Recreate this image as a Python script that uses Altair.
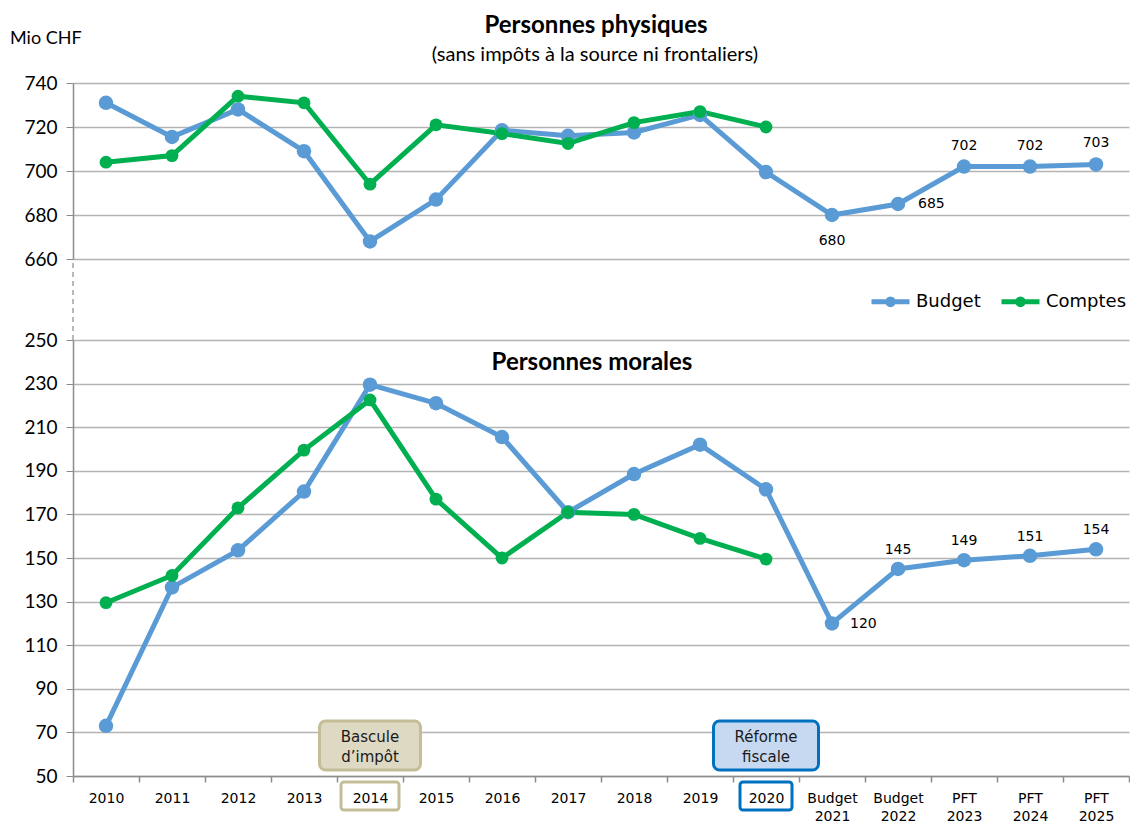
import altair as alt
import pandas as pd

categories = ["2010", "2011", "2012", "2013", "2014", "2015", "2016", "2017",
              "2018", "2019", "2020", "Budget 2021", "Budget 2022",
              "PFT 2023", "PFT 2024", "PFT 2025"]
series = ["Budget", "Comptes"]

pp_budget = [731, 715.5, 728, 709, 668, 687, 718.5, 716, 717.5, 725.5, 699.5,
             680, 685, 702, 702, 703]
pp_comptes = [704, 707, 734, 731, 694, 721, 717, 712.5, 722, 727, 720]

pm_budget = [73, 136.5, 153.5, 180.5, 229.5, 221, 205.5, 171, 188.5, 202, 181.5,
             120, 145, 149, 151, 154]
pm_comptes = [129.5, 142, 173, 199.5, 222.5, 177, 150, 171, 170, 159, 149.5]

pp_ticks = [660, 680, 700, 720, 740]
pm_ticks = [50, 70, 90, 110, 130, 150, 170, 190, 210, 230, 250]

BLUE = "#5b9bd5"
GREEN = "#00b050"
GRID = "#b4b4b4"
AXIS = "#8c8c8c"
W = 1056
H_TOP = 176
H_BOT = 436
GAP = 81


def long_df(budget, comptes):
    rows = []
    for c, v in zip(categories, budget):
        rows.append({"cat": c, "series": "Budget", "value": v})
    for c, v in zip(categories, comptes):
        rows.append({"cat": c, "series": "Comptes", "value": v})
    return pd.DataFrame(rows)


df_pp = long_df(pp_budget, pp_comptes)
df_pm = long_df(pm_budget, pm_comptes)

X = alt.X("cat:N", sort=categories, title=None,
          scale=alt.Scale(type="band", paddingInner=0, paddingOuter=0))

legend_path = ("M-1,0H1M0.15,0A0.15,0.15,0,1,1,-0.15,0"
               "A0.15,0.15,0,1,1,0.15,0Z")
legend = alt.Legend(orient="none", legendX=796, legendY=197, direction="horizontal",
                    title=None, symbolType=legend_path, symbolSize=1444,
                    symbolStrokeWidth=5, labelFont="DejaVu Sans", labelFontSize=18,
                    labelColor="#000000", labelOffset=4, columnPadding=10,
                    padding=0, symbolOpacity=1)
color_scale = alt.Scale(domain=series, range=[BLUE, GREEN])


def series_layers(df, y, show_legend):
    col = alt.Color("series:N", scale=color_scale,
                    legend=legend if show_legend else None)
    base = alt.Chart(df).encode(x=X, y=y, color=col)
    line = base.mark_line(strokeWidth=5)
    pts = base.mark_circle(opacity=1).encode(
        size=alt.condition(alt.datum.series == "Budget", alt.value(210), alt.value(165)))
    return [line, pts]


def value_labels(df, y, cats, **kw):
    return alt.Chart(df).transform_filter(
        alt.datum.series == "Budget"
    ).transform_filter(
        alt.FieldOneOfPredicate(field="cat", oneOf=cats)
    ).mark_text(font="DejaVu Sans", fontSize=14, color="#000000", **kw).encode(
        x=X, y=y, text=alt.Text("value:Q", format=".0f"))


def free_text(txt, x, y, **kw):
    return alt.Chart(one).mark_text(color="#000000", baseline="middle", **kw).encode(
        x=alt.value(x), y=alt.value(y), text=alt.value(txt))


y_axis_common = dict(grid=True, gridColor=GRID, gridWidth=1.5, domainColor=AXIS,
                     domainWidth=1.5, tickColor=AXIS, tickSize=7, labelFont="Lato",
                     labelFontSize=19, labelColor="#000000", labelPadding=9,
                     title=None)

one = pd.DataFrame({"k": [0]})

Y_TOP = alt.Y("value:Q",
              scale=alt.Scale(domain=[660, 740], nice=False, zero=False),
              axis=alt.Axis(values=pp_ticks, **y_axis_common))

top = alt.layer(
    *series_layers(df_pp, Y_TOP, True),
    value_labels(df_pp, Y_TOP, ["PFT 2023", "PFT 2024", "PFT 2025"], dy=-21),
    value_labels(df_pp, Y_TOP, ["Budget 2021"], dy=26),
    value_labels(df_pp, Y_TOP, ["Budget 2022"], dx=20, align="left"),
    free_text("Personnes physiques", 523, -57, font="Lato", fontSize=24,
              fontWeight="bold"),
    free_text("(sans impôts à la source ni frontaliers)", 522, -28, font="Lato",
              fontSize=20),
    free_text("Mio CHF", -63, -44, font="Lato", fontSize=18, align="left"),
).encode(
    x=alt.X("cat:N", sort=categories, axis=None,
            scale=alt.Scale(type="band", paddingInner=0, paddingOuter=0))
).properties(width=W, height=H_TOP)

Y_BOT = alt.Y("value:Q",
              scale=alt.Scale(domain=[50, 250], nice=False, zero=False),
              axis=alt.Axis(values=pm_ticks, **y_axis_common))

X_BOT = alt.X("cat:N", sort=categories, title=None,
              scale=alt.Scale(type="band", paddingInner=0, paddingOuter=0),
              axis=alt.Axis(labelExpr="split(datum.label, ' ')", tickBand="extent",
                            grid=False, labelFont="DejaVu Sans", labelFontSize=14,
                            labelColor="#000000", labelAngle=0, tickColor=AXIS,
                            tickSize=6, tickWidth=1.5, labelPadding=9,
                            labelLineHeight=18, domainColor=AXIS, domainWidth=1.5))

ann_2014 = pd.DataFrame({"cat": ["2014"]})
ann_2020 = pd.DataFrame({"cat": ["2020"]})


def annotation(df, lines, fill, stroke, box_w, lab_w):
    box = alt.Chart(df).mark_bar(width=box_w, cornerRadius=6, fill=fill,
                                 stroke=stroke, strokeWidth=3).encode(
        x=X, y=alt.value(381), y2=alt.value(430))
    txt = alt.Chart(df).mark_text(font="DejaVu Sans", fontSize=15,
                                  color="#1a1a1a", lineHeight=20,
                                  baseline="middle").encode(
        x=X, y=alt.value(397), text=alt.value(lines))
    lab = alt.Chart(df).mark_bar(width=lab_w, cornerRadius=3, fillOpacity=0,
                                 stroke=stroke, strokeWidth=3).encode(
        x=X, y=alt.value(442), y2=alt.value(470))
    return [box, txt, lab]


break_rule = alt.Chart(one).mark_rule(color=AXIS, strokeWidth=1.2,
                                      strokeDash=[5, 4]).encode(
    x=alt.value(0), y=alt.value(-GAP + 4), y2=alt.value(0))

bottom = alt.layer(
    *series_layers(df_pm, Y_BOT, False),
    value_labels(df_pm, Y_BOT, ["Budget 2022", "PFT 2023", "PFT 2024", "PFT 2025"],
                 dy=-19),
    value_labels(df_pm, Y_BOT, ["Budget 2021"], dx=18, dy=1, align="left"),
    *annotation(ann_2014, ["Bascule", "d’impôt"], "#ddd9c3", "#c4bd97", 101, 58),
    *annotation(ann_2020, ["Réforme", "fiscale"], "#c6d9f1", "#0070c0", 105, 52),
    break_rule,
    free_text("Personnes morales", 519, 23, font="Lato", fontSize=24,
              fontWeight="bold"),
).encode(x=X_BOT).properties(width=W, height=H_BOT)

chart = alt.vconcat(top, bottom, spacing=GAP, bounds="flush").resolve_scale(
    color="shared", y="independent"
).resolve_legend(color="independent").properties(
    padding={"left": 2, "top": 6, "right": 0, "bottom": 0}
).configure_view(stroke=None)

chart.save("out.html", embed_options={"renderer": "svg", "actions": False})
